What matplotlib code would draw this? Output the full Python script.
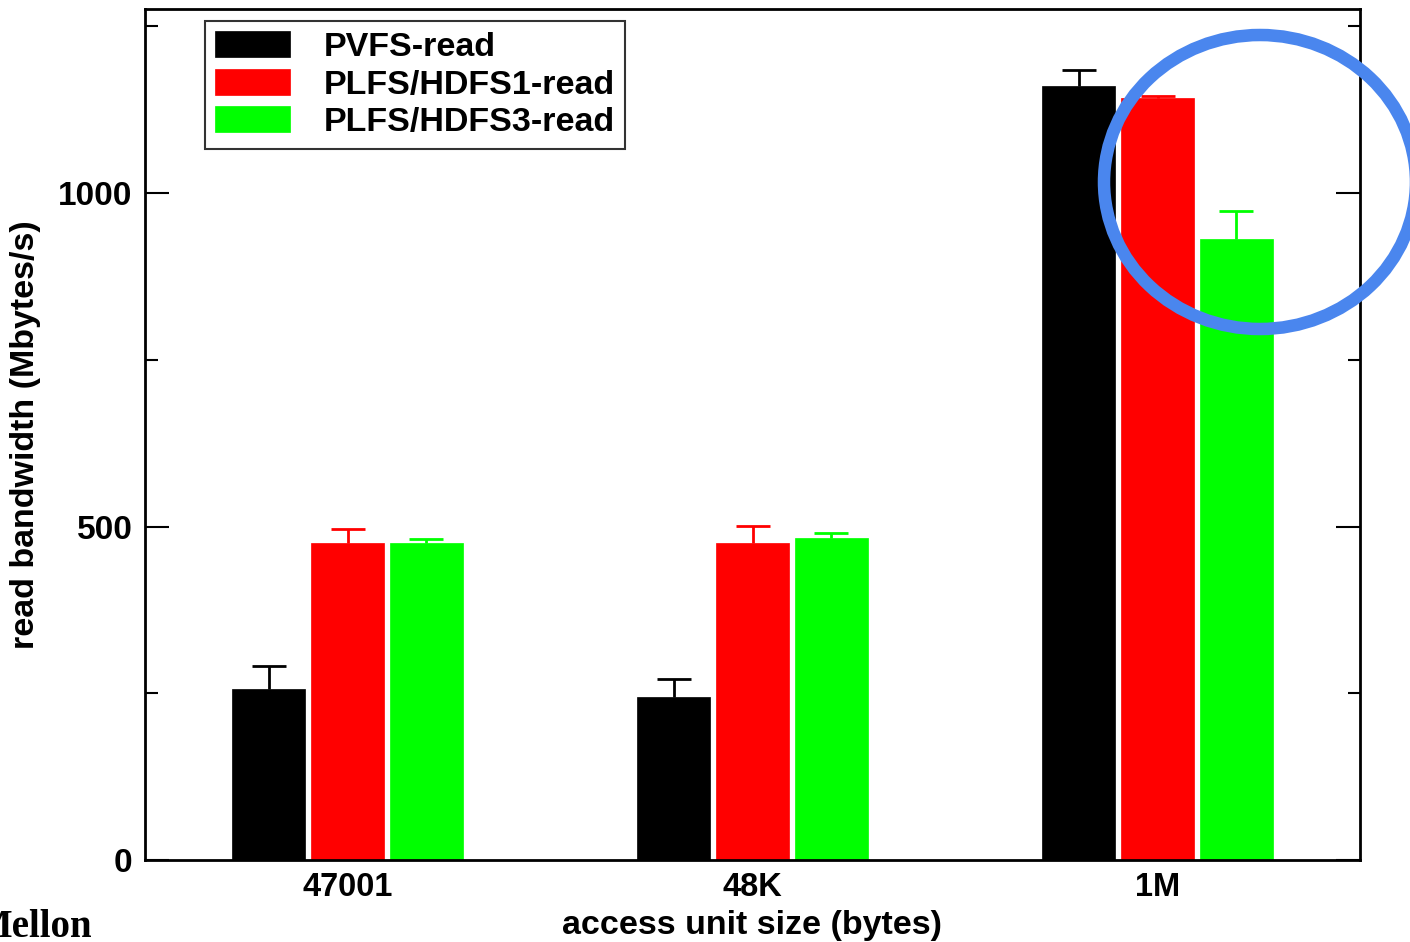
import matplotlib
matplotlib.use("Agg")
import matplotlib.pyplot as plt
import numpy as np
from matplotlib.patches import Ellipse

plt.rcParams['font.family'] = ['Liberation Sans', 'DejaVu Sans']
plt.rcParams['font.weight'] = 'bold'

categories = ["47001", "48K", "1M"]
series_names = ["PVFS-read", "PLFS/HDFS1-read", "PLFS/HDFS3-read"]
series_colors = ["#000000", "#ff0000", "#00ff00"]
pvfs_read = [256, 245, 1160]
hdfs1_read = [475, 475, 1142]
hdfs3_read = [475, 483, 931]
pvfs_err = [35, 26, 25]
hdfs1_err = [22, 26, 4]
hdfs3_err = [7, 7, 42]
values = [pvfs_read, hdfs1_read, hdfs3_read]
errors = [pvfs_err, hdfs1_err, hdfs3_err]

fig = plt.figure(figsize=(14.10, 9.42), dpi=100)
ax = fig.add_axes([145/1410, 1-860/942, (1360-145)/1410, (860-9)/942])

x = np.arange(len(categories))
width = 0.178
offsets = [-0.195, 0.0, 0.195]
for vals, errs, name, col, off in zip(values, errors, series_names, series_colors, offsets):
    ax.bar(x + off, vals, width, color=col, edgecolor=col, linewidth=0.5, label=name, zorder=2)
    eb = ax.errorbar(x + off, vals, yerr=[np.zeros(len(errs)), errs], fmt='none',
                     ecolor=col, elinewidth=2.0, capsize=12, capthick=2.0, zorder=3)
    for cl in eb[1]:
        if np.allclose(cl.get_ydata(), vals):
            cl.set_visible(False)

ax.set_xlim(-0.5, 2.5)
ax.set_ylim(0, 1276)
ax.set_xticks(x)
ax.set_xticklabels(categories)
ax.set_yticks([0, 500, 1000])
ax.set_yticks([250, 750, 1250], minor=True)
ax.tick_params(axis='x', length=0, pad=9, labelsize=23.5)
ax.tick_params(axis='y', which='major', direction='in', length=17, width=1.5,
               right=True, labelsize=24, pad=9)
ax.tick_params(axis='y', which='minor', direction='in', length=9, width=1.5, right=True)
for s in ax.spines.values():
    s.set_linewidth(2.0)

ax.set_xlabel("access unit size (bytes)", fontsize=24.5, fontweight='bold', labelpad=5)
ax.set_ylabel("read bandwidth (Mbytes/s)", fontsize=24.5, fontweight='bold', labelpad=12)

leg = ax.legend(loc='upper left', bbox_to_anchor=((205-145)/1215, (860-21)/851),
                fontsize=24.5, frameon=True, fancybox=False, edgecolor='black',
                handlelength=2.2, handleheight=0.8, handletextpad=1.0,
                labelspacing=0.17, borderpad=0.3, borderaxespad=0)
leg.get_frame().set_linewidth(1.5)

# annotation circle (slide overlay)
circ = Ellipse((1260/1410, 1-182/942), 312/1410, 294/942, transform=fig.transFigure,
               fill=False, edgecolor='#4a86ee', linewidth=9, zorder=10)
fig.add_artist(circ)

fig.text(92/1410, 1-937/942, "Mellon", ha='right', va='baseline',
         fontsize=28, fontweight='bold', family=['Liberation Serif', 'DejaVu Serif'])

fig.savefig("out.png", dpi=100)
